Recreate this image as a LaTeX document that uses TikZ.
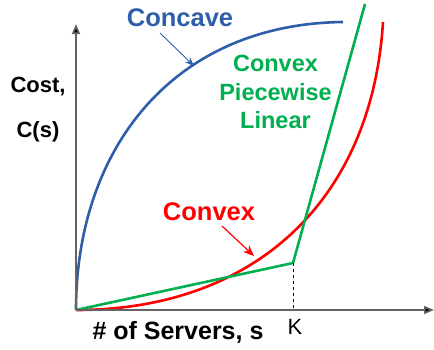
\documentclass[tikz,border=0pt]{standalone}
\usepackage{fontspec}
\setmainfont{Liberation Sans}
\usetikzlibrary{arrows.meta}
\definecolor{cblue}{RGB}{46,94,170}
\definecolor{cgreen}{RGB}{0,176,80}
\definecolor{cred}{RGB}{255,0,0}
\definecolor{caxis}{RGB}{100,100,100}
\begin{document}
\begin{tikzpicture}[x=1pt,y=-1pt,
  axis/.style={draw=caxis,line width=1.6pt,-{Triangle[length=10pt,width=8pt,fill=black]}},
  curve/.style={line width=2.6pt},
  lbl/.style={font=\bfseries\fontsize{25.5}{30}\selectfont,inner sep=0pt},
  glbl/.style={font=\bfseries\fontsize{23.5}{28.5}\selectfont,inner sep=0pt,align=center,text=cgreen},
  ylbl/.style={font=\bfseries\fontsize{22}{26}\selectfont,inner sep=0pt}]
\useasboundingbox (0,0) rectangle (434,349);
\coordinate (O) at (76,310);
\coordinate (Xend) at (434,310);
\coordinate (Yend) at (76,24);
\coordinate (Kpt) at (293,263);
\coordinate (Kbase) at (293,310);
\coordinate (Gtop) at (365,4);
% curves
\draw[cblue,curve] (O) .. controls (76,150) and (172,24) .. (343,22);
\draw[cred,curve] (O) .. controls (255,310) and (372,200) .. (383,22);
\draw[cgreen,curve,line join=round] (O) -- (Kpt) -- (Gtop);
% axes
\draw[axis] (O) -- (Yend);
\draw[axis] (O) -- (Xend);
\draw[black,line width=0.8pt,dashed] (Kpt) -- (Kbase);
% labels
\node[lbl,text=cblue] (concave) at (180,18) {Concave};
\coordinate (cvtip) at (194,66);
\draw[cblue,line width=0.9pt,-{Stealth[length=9pt,width=7pt]}] (160,33) -- (cvtip);
\node[glbl] (pwl) at (275.5,92) {Convex\\Piecewise\\Linear};
\node[lbl,text=cred] (convex) at (209,212) {Convex};
\coordinate (cxtip) at (254,256);
\draw[cred,line width=1.2pt,-{Stealth[length=11pt,width=9pt]}] (222,226) -- (cxtip);
\node[ylbl] (cost) at (38,87) {Cost,};
\node[ylbl] (cs) at (38,132) {C(s)};
\node[ylbl,font=\bfseries\fontsize{25}{30}\selectfont] (xl) at (178,332) {\# of Servers, s};
\node[font=\fontsize{22}{26}\selectfont,inner sep=0pt] (K) at (295,327) {K};
\end{tikzpicture}
\end{document}
